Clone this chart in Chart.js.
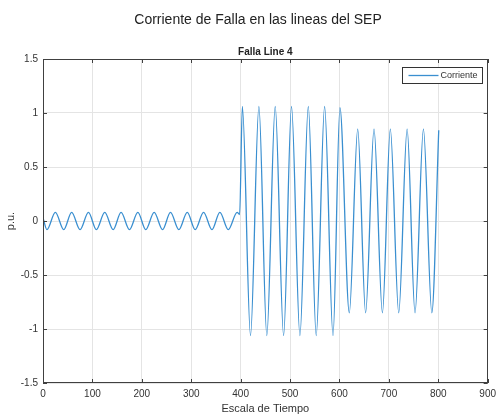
<!DOCTYPE html>
<html>
<head>
<meta charset="utf-8">
<script src="https://cdn.jsdelivr.net/npm/chart.js@4/dist/chart.umd.min.js"></script>
<style>
html, body { margin: 0; padding: 0; background: #fff; }
</style>
</head>
<body>
<canvas id="falla" width="501" height="419"></canvas>
<script>
// crestas y valles (Escala de Tiempo, p.u.)
const tiempo = [
    0, 8, 25, 42, 58, 75, 92, 108, 125, 142, 158, 175, 192, 208, 225, 242, 258, 275,
    292, 308, 325, 342, 358, 375, 393, 398,
    403.5, 420, 437, 453, 470, 487, 503, 520, 537, 553, 570, 587, 601,
    620, 637, 653, 670, 687, 703, 720, 737, 753, 770, 787, 801
];
const corriente = [
    0.03, -0.08, 0.08, -0.08, 0.08, -0.08, 0.08, -0.08, 0.08, -0.08, 0.08, -0.08, 0.08, -0.08, 0.08, -0.08, 0.08, -0.08,
    0.08, -0.08, 0.08, -0.08, 0.08, -0.08, 0.08, 0.06,
    1.06, -1.06, 1.06, -1.06, 1.06, -1.06, 1.06, -1.06, 1.06, -1.06, 1.06, -1.06, 1.05,
    -0.85, 0.85, -0.85, 0.85, -0.85, 0.85, -0.85, 0.85, -0.85, 0.85, -0.85, 0.84
];
const xTicks = [0, 100, 200, 300, 400, 500, 600, 700, 800, 900];
const yTicks = [-1.5, -1, -0.5, 0, 0.5, 1, 1.5];

const tituloFigura = 'Corriente de Falla en las lineas del SEP';
const tituloEjes = 'Falla Line 4';
const nombreSerie = 'Corriente';

const fuente = '"Liberation Sans", Arial, Helvetica, sans-serif';
const colorEjes = '#404040';
const colorLinea = '#3a8fd0';

// marco tipo MATLAB: caja, marcas hacia adentro, titulos y leyenda
const marcoMatlab = {
    id: 'marcoMatlab',
    afterDatasetsDraw(chart) {
        const { ctx, chartArea: a, scales: { x, y } } = chart;
        ctx.save();
        ctx.strokeStyle = colorEjes;
        ctx.lineWidth = 1;
        ctx.strokeRect(Math.round(a.left) + 0.5, Math.round(a.top) + 0.5,
            Math.round(a.width) - 1, Math.round(a.height) - 1);

        const largo = 4;
        ctx.beginPath();
        x.ticks.forEach(t => {
            const px = Math.round(x.getPixelForValue(t.value)) + 0.5;
            ctx.moveTo(px, a.bottom); ctx.lineTo(px, a.bottom - largo);
            ctx.moveTo(px, a.top); ctx.lineTo(px, a.top + largo);
        });
        y.ticks.forEach(t => {
            const py = Math.round(y.getPixelForValue(t.value)) + 0.5;
            ctx.moveTo(a.left, py); ctx.lineTo(a.left + largo, py);
            ctx.moveTo(a.right, py); ctx.lineTo(a.right - largo, py);
        });
        ctx.stroke();

        // titulos
        ctx.fillStyle = '#222';
        ctx.textAlign = 'center';
        ctx.textBaseline = 'middle';
        ctx.font = '14px ' + fuente;
        ctx.fillText(tituloFigura, 258, 20);
        ctx.font = 'bold 10px ' + fuente;
        ctx.fillText(tituloEjes, (a.left + a.right) / 2, 52);

        // leyenda
        const ds = chart.data.datasets[0];
        const lx = 402.5, ly = 67.5, lw = 80, lh = 16;
        ctx.fillStyle = '#fff';
        ctx.fillRect(lx, ly, lw, lh);
        ctx.strokeStyle = '#333';
        ctx.strokeRect(lx, ly, lw, lh);
        ctx.strokeStyle = ds.borderColor;
        ctx.lineWidth = 1.3;
        ctx.beginPath();
        ctx.moveTo(lx + 6, ly + lh / 2);
        ctx.lineTo(lx + 36, ly + lh / 2);
        ctx.stroke();
        ctx.fillStyle = '#333';
        ctx.font = '9px ' + fuente;
        ctx.textAlign = 'left';
        ctx.fillText(ds.label, lx + 38, ly + lh / 2 + 0.5);
        ctx.restore();
    }
};

const ctx = document.getElementById('falla').getContext('2d');

new Chart(ctx, {
    type: 'line',
    data: {
        datasets: [{
            label: nombreSerie,
            data: tiempo.map((t, i) => ({ x: t, y: corriente[i] })),
            borderColor: colorLinea,
            borderWidth: 1.3,
            pointRadius: 0,
            fill: false,
            cubicInterpolationMode: 'monotone'
        }]
    },
    options: {
        responsive: false,
        animation: false,
        devicePixelRatio: 1,
        layout: {
            padding: { top: 59, right: 8, left: 0, bottom: 0 }
        },
        plugins: {
            legend: { display: false },
            tooltip: { enabled: false }
        },
        scales: {
            x: {
                type: 'linear',
                min: 0,
                max: 900,
                afterBuildTicks: s => { s.ticks = xTicks.map(v => ({ value: v })); },
                afterFit: s => { s.height = 36; },
                grid: { color: '#e4e4e4', drawTicks: false },
                border: { display: false },
                ticks: {
                    color: '#333',
                    padding: 5,
                    maxRotation: 0,
                    font: { family: fuente, size: 10 },
                    callback: v => String(v)
                },
                title: {
                    display: true,
                    text: 'Escala de Tiempo',
                    color: '#333',
                    font: { family: fuente, size: 11 },
                    padding: { top: 0, bottom: 3 }
                }
            },
            y: {
                min: -1.5,
                max: 1.5,
                afterBuildTicks: s => { s.ticks = yTicks.map(v => ({ value: v })); },
                afterFit: s => { s.width = 43; },
                grid: { color: '#e4e4e4', drawTicks: false },
                border: { display: false },
                ticks: {
                    color: '#333',
                    padding: 5,
                    font: { family: fuente, size: 10 },
                    callback: v => String(v)
                },
                title: {
                    display: true,
                    text: 'p.u.',
                    color: '#333',
                    font: { family: fuente, size: 11 },
                    padding: { top: 4, bottom: 0 }
                }
            }
        }
    },
    plugins: [marcoMatlab]
});
</script>
</body>
</html>
